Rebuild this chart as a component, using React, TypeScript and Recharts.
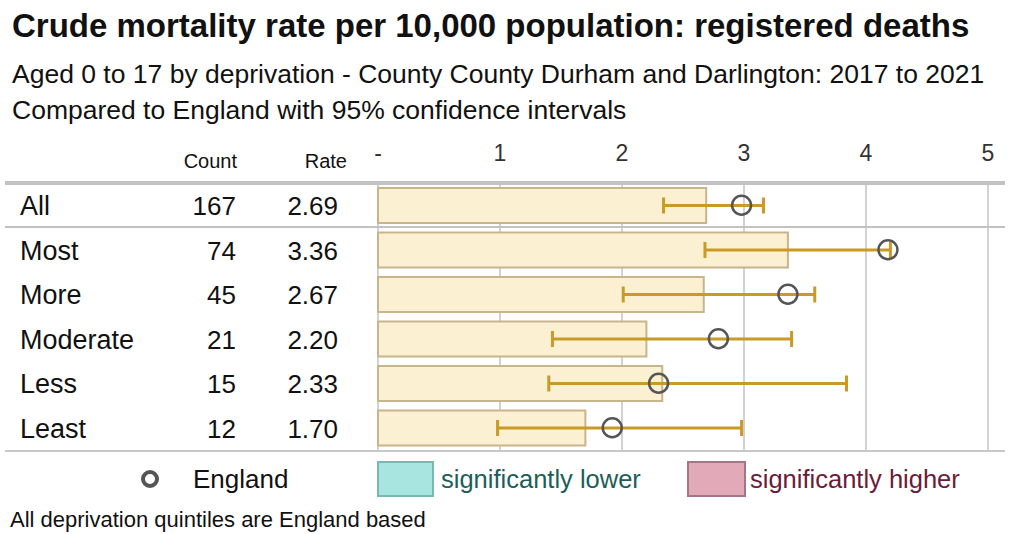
import React from 'react';
import { ComposedChart, Bar, Line, XAxis, YAxis, CartesianGrid, ErrorBar } from 'recharts';

const groups = ['All', 'Most', 'More', 'Moderate', 'Less', 'Least'];
const counts = [167, 74, 45, 21, 15, 12];
const rates = [2.69, 3.36, 2.67, 2.2, 2.33, 1.7];
const lowerCI = [2.34, 2.68, 2.01, 1.43, 1.4, 0.98];
const upperCI = [3.16, 4.2, 3.58, 3.39, 3.84, 2.98];
const englandRates = [2.98, 4.18, 3.36, 2.79, 2.3, 1.92];
const xTicks = [0, 1, 2, 3, 4, 5];

const data = groups.map((name, i) => ({
  name,
  count: counts[i],
  rate: rates[i],
  england: englandRates[i],
  err: [rates[i] - lowerCI[i], upperCI[i] - rates[i]],
}));

const FONT = '"Liberation Sans", Arial, sans-serif';

const RowTick = (props: any) => {
  const { y, payload } = props;
  const row = data[payload.index];
  if (!row) return null;
  return (
    <g fontFamily={FONT} fontSize={26} fill="#111">
      <text x={20} y={y + 1} dominantBaseline="central" fontSize={27}>{row.name}</text>
      <text x={236} y={y + 1} textAnchor="end" dominantBaseline="central">{row.count}</text>
      <text x={338} y={y + 1} textAnchor="end" dominantBaseline="central">{row.rate.toFixed(2)}</text>
    </g>
  );
};

const TopTick = (props: any) => {
  const { x, payload } = props;
  return (
    <text x={x} y={161} textAnchor="middle" fontFamily={FONT} fontSize={23} fill="#333">
      {payload.value === 0 ? '-' : payload.value}
    </text>
  );
};

export default function App() {
  return (
    <div style={{ position: 'absolute', left: 0, top: 0, width: 1011, height: 534, background: '#fff', fontFamily: FONT }}>
      <div style={{ position: 'absolute', left: 12, top: 7, fontSize: 33, fontWeight: 'bold', color: '#111', whiteSpace: 'nowrap', lineHeight: '38px' }}>
        Crude mortality rate per 10,000 population: registered deaths
      </div>
      <div style={{ position: 'absolute', left: 12, top: 59, fontSize: 26.5, color: '#111', whiteSpace: 'nowrap', lineHeight: '30px' }}>
        Aged 0 to 17 by deprivation - County County Durham and Darlington: 2017 to 2021
      </div>
      <div style={{ position: 'absolute', left: 12, top: 95, fontSize: 26.5, color: '#111', whiteSpace: 'nowrap', lineHeight: '30px' }}>
        Compared to England with 95% confidence intervals
      </div>

      <ComposedChart
        width={1011}
        height={534}
        data={data}
        layout="vertical"
        margin={{ top: 143, right: 23, bottom: 84, left: 0 }}
        barCategoryGap={5}
      >
        <CartesianGrid horizontal={false} stroke="#d2d2d2" strokeWidth={2} />
        <XAxis
          type="number"
          orientation="top"
          domain={[0, 5]}
          ticks={xTicks}
          height={40}
          axisLine={false}
          tickLine={false}
          tick={<TopTick />}
        />
        <YAxis
          type="category"
          dataKey="name"
          width={378}
          axisLine={false}
          tickLine={false}
          tick={<RowTick />}
          interval={0}
        />
        <Bar dataKey="rate" fill="#FCF0D2" stroke="#C7B58C" strokeWidth={2} isAnimationActive={false}>
          <ErrorBar dataKey="err" direction="x" width={8} stroke="#C99A25" strokeWidth={3} />
        </Bar>
        <Line
          dataKey="england"
          stroke="none"
          isAnimationActive={false}
          dot={{ r: 9.5, fill: 'none', stroke: '#555', strokeWidth: 2.5 }}
          activeDot={false}
        />
      </ComposedChart>

      {/* table rules and column headers */}
      <svg style={{ position: 'absolute', left: 0, top: 0 }} width={1011} height={534} pointerEvents="none">
        <line x1={5} x2={1005} y1={183} y2={183} stroke="#c2c2c2" strokeWidth={4} />
        <line x1={5} x2={1005} y1={227} y2={227} stroke="#c2c2c2" strokeWidth={2} />
        <line x1={5} x2={1005} y1={451} y2={451} stroke="#c8c8c8" strokeWidth={2} />
        <text x={237} y={168} textAnchor="end" fontFamily={FONT} fontSize={20} fill="#111">Count</text>
        <text x={347} y={168} textAnchor="end" fontFamily={FONT} fontSize={20} fill="#111">Rate</text>
      </svg>

      {/* legend */}
      <svg style={{ position: 'absolute', left: 0, top: 455 }} width={1011} height={50}>
        <circle cx={150} cy={24} r={7} fill="none" stroke="#555" strokeWidth={4} />
        <text x={193} y={24} dominantBaseline="central" fontFamily={FONT} fontSize={26} fill="#111">England</text>
        <rect x={378} y={7} width={55} height={34} fill="#A8E4E0" stroke="#78B8B2" strokeWidth={2} />
        <text x={441} y={24} dominantBaseline="central" fontFamily={FONT} fontSize={25.5} fill="#1E5E58">significantly lower</text>
        <rect x={688} y={7} width={57} height={34} fill="#E2A9B9" stroke="#A47583" strokeWidth={2} />
        <text x={750} y={24} dominantBaseline="central" fontFamily={FONT} fontSize={25.5} fill="#6A1C3A">significantly higher</text>
      </svg>
      <div style={{ position: 'absolute', left: 10, top: 507, fontSize: 22, color: '#111', whiteSpace: 'nowrap', lineHeight: '26px' }}>
        All deprivation quintiles are England based
      </div>
    </div>
  );
}
